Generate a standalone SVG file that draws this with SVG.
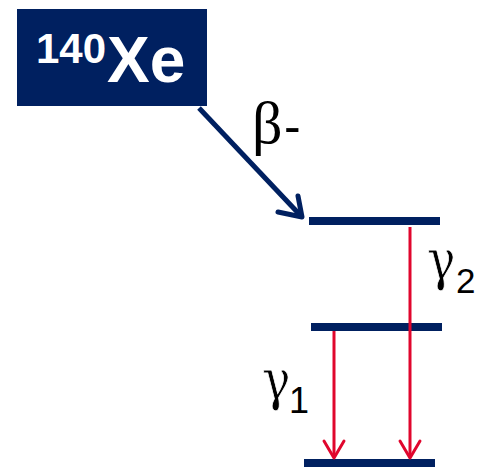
<svg xmlns="http://www.w3.org/2000/svg" width="480" height="469" viewBox="0 0 480 469">
<style>
.lvl{fill:#002060}
.red{stroke:#e0062d;stroke-width:3;fill:none}
.redhead{stroke:#e0062d;stroke-width:3;fill:none;stroke-linecap:round;stroke-linejoin:round}
.gam{font-family:"DejaVu Serif",serif;font-size:56px;fill:#000;stroke:#fff;stroke-width:0.8}
.beta{font-family:"Liberation Serif",serif;font-size:60px;fill:#000}
.sub{font-family:"Liberation Sans",Arial,sans-serif;fill:#000}
</style>
<rect width="480" height="469" fill="#fff"/>
<g id="xe140">
<rect x="17" y="9" width="190" height="97" fill="#002060"/>
<text x="36" y="63" font-family="Liberation Sans,Arial,sans-serif" font-weight="bold" font-size="42" fill="#fff">140</text>
<text x="107" y="82" font-family="Liberation Sans,Arial,sans-serif" font-weight="bold" font-size="64" fill="#fff">Xe</text>
</g>
<g id="level-top"><rect class="lvl" x="309" y="217" width="131" height="8"/></g>
<g id="level-mid"><rect class="lvl" x="311" y="323" width="131" height="8"/></g>
<g id="level-ground"><rect class="lvl" x="304" y="459" width="131" height="8"/></g>
<g id="connectors">
<g id="beta">
<line x1="199" y1="108" x2="301" y2="216" stroke="#002060" stroke-width="5"/>
<polyline points="278,212 302,217 298,196" fill="none" stroke="#002060" stroke-width="5" stroke-linecap="round" stroke-linejoin="round"/>
<text class="beta" x="252" y="143">β</text>
<text class="sub" x="284" y="143" font-size="50">-</text>
</g>
<g id="gamma2">
<line class="red" x1="410" y1="227" x2="410" y2="457"/>
<polyline class="redhead" points="400,441 410,458 420,441"/>
<text class="gam" transform="translate(427,279) scale(0.85,1)">γ</text>
<text class="sub" x="456" y="293" font-size="35">2</text>
</g>
<g id="gamma1">
<line class="red" x1="334" y1="331" x2="334" y2="457"/>
<polyline class="redhead" points="324,441 334,458 344,441"/>
<text class="gam" transform="translate(262,399) scale(0.85,1)">γ</text>
<text class="sub" x="289" y="413" font-size="36">1</text>
</g>
</g>
</svg>
